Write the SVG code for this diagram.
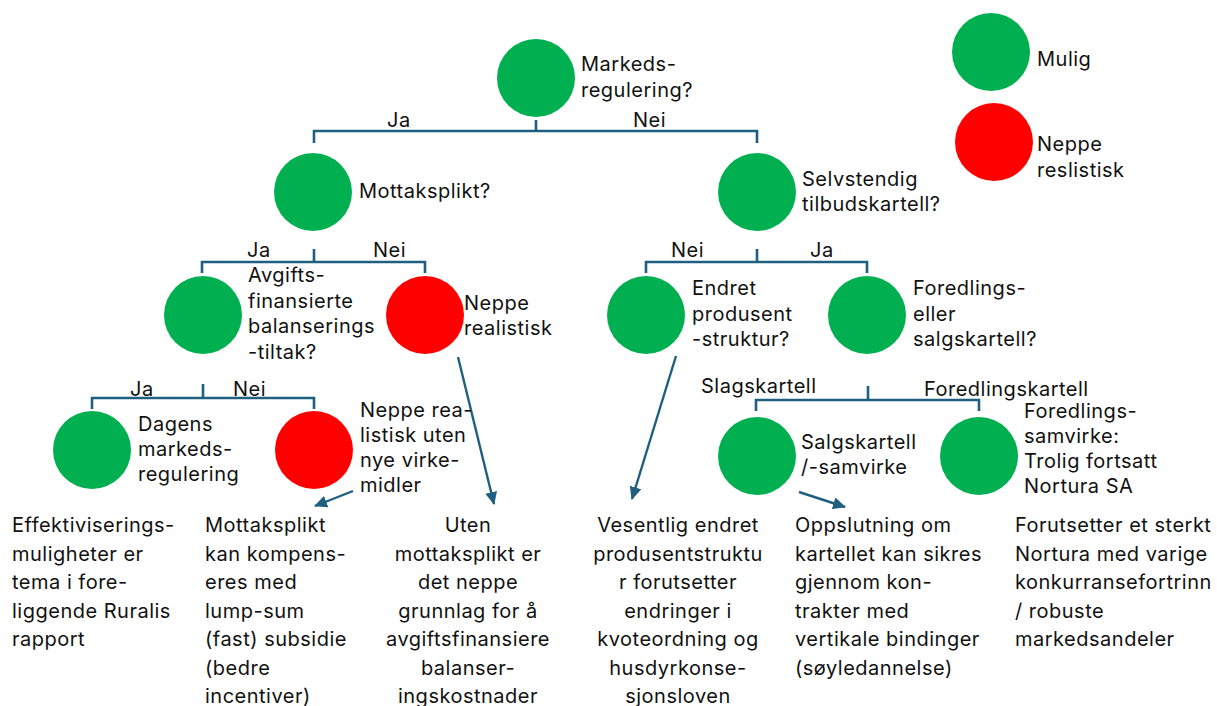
<svg xmlns="http://www.w3.org/2000/svg" width="1217" height="706" viewBox="0 0 1217 706">
<defs>
<style>
text{font-family:Inter,"Noto Sans","DejaVu Sans",sans-serif;font-size:20px;letter-spacing:0.5px;fill:#111}
.c{text-anchor:middle}
.g{fill:#00B050}
.r{fill:#FF0000}
.ln{fill:none;stroke:#1F5F7F;stroke-width:2.6}
.ar{fill:none;stroke:#1F5F7F;stroke-width:2.4;marker-end:url(#ah)}
</style>
<marker id="ah" markerUnits="userSpaceOnUse" markerWidth="14" markerHeight="12" refX="12" refY="6" orient="auto">
<path d="M0,0 L13,6 L0,12 Z" fill="#1F5F7F"/>
</marker>
</defs>
<rect width="1217" height="706" fill="#fff"/>

<g id="connectors">
<path class="ln" d="M536,120 V131 M314,143 V131 H757 V143"/>
<path class="ln" d="M314,249 V262 M202,273 V262 H425 V273"/>
<path class="ln" d="M757,249 V262 M646,273 V262 H867 V273"/>
<path class="ln" d="M203,384 V398 M92,409 V398 H314 V409"/>
<path class="ln" d="M868,386 V400 M756,411 V400 H979 V411"/>
<line class="ar" x1="458" y1="357" x2="494" y2="504"/>
<line class="ar" x1="353" y1="491" x2="315" y2="506"/>
<line class="ar" x1="676" y1="356" x2="632" y2="499"/>
<line class="ar" x1="799" y1="492" x2="845" y2="507"/>
<text x="387" y="127">Ja</text>
<text x="633" y="127">Nei</text>
<text x="247" y="257">Ja</text>
<text x="373" y="257">Nei</text>
<text x="671" y="257">Nei</text>
<text x="810" y="257">Ja</text>
<text x="130" y="396">Ja</text>
<text x="233" y="396">Nei</text>
<text x="701" y="393">Slagskartell</text>
<text x="924" y="396">Foredlingskartell</text>
</g>

<g id="legend-mulig">
<circle class="g" cx="991" cy="52" r="39"/>
<text x="1037" y="66">Mulig</text>
</g>
<g id="legend-neppe">
<circle class="r" cx="994" cy="142" r="39"/>
<text x="1037" y="151">Neppe</text>
<text x="1037" y="177">reslistisk</text>
</g>

<g id="n-markedsregulering">
<circle class="g" cx="536" cy="78" r="39"/>
<text x="581" y="71">Markeds-</text>
<text x="581" y="96.5">regulering?</text>
</g>
<g id="n-mottaksplikt">
<circle class="g" cx="313" cy="192" r="39"/>
<text x="359" y="198">Mottaksplikt?</text>
</g>
<g id="n-selvstendig">
<circle class="g" cx="757" cy="192" r="39"/>
<text x="802" y="186">Selvstendig</text>
<text x="802" y="211">tilbudskartell?</text>
</g>
<g id="n-avgifts">
<circle class="g" cx="203" cy="315" r="39"/>
<text x="248" y="282">Avgifts-</text>
<text x="248" y="307.5">finansierte</text>
<text x="248" y="333">balanserings</text>
<text x="248" y="358.5">-tiltak?</text>
</g>
<g id="n-neppe1">
<circle class="r" cx="425" cy="315" r="39"/>
<text x="464" y="310">Neppe</text>
<text x="464" y="335">realistisk</text>
</g>
<g id="n-endret">
<circle class="g" cx="646" cy="315" r="39"/>
<text x="692" y="295">Endret</text>
<text x="692" y="320.5">produsent</text>
<text x="692" y="346">-struktur?</text>
</g>
<g id="n-foredling">
<circle class="g" cx="867" cy="315" r="39"/>
<text x="913" y="295">Foredlings-</text>
<text x="913" y="320.5">eller</text>
<text x="913" y="346">salgskartell?</text>
</g>
<g id="n-dagens">
<circle class="g" cx="92" cy="450" r="39"/>
<text x="138" y="431">Dagens</text>
<text x="138" y="456">markeds-</text>
<text x="138" y="481">regulering</text>
</g>
<g id="n-neppe2">
<circle class="r" cx="314" cy="450" r="39"/>
<text x="360" y="417">Neppe rea-</text>
<text x="360" y="442">listisk uten</text>
<text x="360" y="467">nye virke-</text>
<text x="360" y="492">midler</text>
</g>
<g id="n-salgskartell">
<circle class="g" cx="757" cy="456" r="39"/>
<text x="801" y="449">Salgskartell</text>
<text x="801" y="474">/-samvirke</text>
</g>
<g id="n-foredlingssamvirke">
<circle class="g" cx="979" cy="456" r="39"/>
<text x="1024" y="418">Foredlings-</text>
<text x="1024" y="443">samvirke:</text>
<text x="1024" y="468">Trolig fortsatt</text>
<text x="1024" y="493">Nortura SA</text>
</g>

<g id="t-col1">
<text x="12" y="532">Effektiviserings-</text>
<text x="12" y="560.5">muligheter er</text>
<text x="12" y="589">tema i fore-</text>
<text x="12" y="617.5">liggende Ruralis</text>
<text x="12" y="646">rapport</text>
</g>
<g id="t-col2">
<text x="205" y="532">Mottaksplikt</text>
<text x="205" y="560.5">kan kompens-</text>
<text x="205" y="589">eres med</text>
<text x="205" y="617.5">lump-sum</text>
<text x="205" y="646">(fast) subsidie</text>
<text x="205" y="674.5">(bedre</text>
<text x="205" y="703">incentiver)</text>
</g>
<g id="t-col3">
<text class="c" x="468" y="532">Uten</text>
<text class="c" x="468" y="560.5">mottaksplikt er</text>
<text class="c" x="468" y="589">det neppe</text>
<text class="c" x="468" y="617.5">grunnlag for å</text>
<text class="c" x="468" y="646">avgiftsfinansiere</text>
<text class="c" x="468" y="674.5">balanser-</text>
<text class="c" x="468" y="703">ingskostnader</text>
</g>
<g id="t-col4">
<text class="c" x="678" y="532">Vesentlig endret</text>
<text class="c" x="678" y="560.5">produsentstruktu</text>
<text class="c" x="678" y="589">r forutsetter</text>
<text class="c" x="678" y="617.5">endringer i</text>
<text class="c" x="678" y="646">kvoteordning og</text>
<text class="c" x="678" y="674.5">husdyrkonse-</text>
<text class="c" x="678" y="703">sjonsloven</text>
</g>
<g id="t-col5">
<text x="795" y="532">Oppslutning om</text>
<text x="795" y="560.5">kartellet kan sikres</text>
<text x="795" y="589">gjennom kon-</text>
<text x="795" y="617.5">trakter med</text>
<text x="795" y="646">vertikale bindinger</text>
<text x="795" y="674.5">(søyledannelse)</text>
</g>
<g id="t-col6">
<text x="1015" y="532">Forutsetter et sterkt</text>
<text x="1015" y="560.5">Nortura med varige</text>
<text x="1015" y="589">konkurransefortrinn</text>
<text x="1015" y="617.5">/ robuste</text>
<text x="1015" y="646">markedsandeler</text>
</g>
</svg>
